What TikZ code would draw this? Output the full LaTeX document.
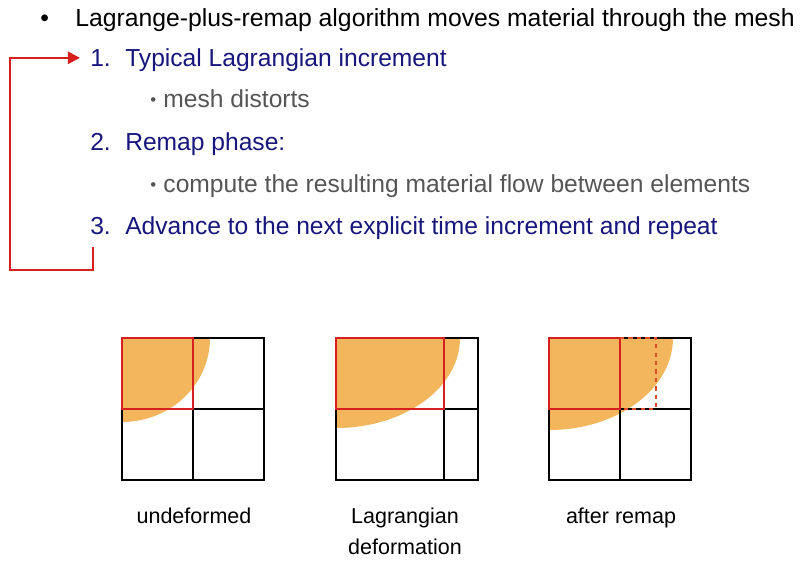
\documentclass[tikz,border=0pt]{standalone}
\usepackage{fontspec}
\setmainfont{Liberation Sans}
\definecolor{slnavy}{RGB}{22,22,125}
\definecolor{slgray}{RGB}{85,85,85}
\definecolor{slred}{RGB}{214,32,32}
\definecolor{slorange}{RGB}{244,182,92}
\definecolor{sldash}{RGB}{222,78,40}
\usetikzlibrary{arrows.meta,positioning}
\newcommand{\subdot}{\makebox[0.33cm][l]{\raisebox{0.05cm}{\fontsize{12}{12}\selectfont•}}}

\begin{document}
\begin{tikzpicture}[
    x=0.025cm, y=-0.025cm,
    headline/.style={anchor=base west, inner sep=0pt, text=black,
                     font=\fontsize{17.6}{21}\selectfont},
    steptext/.style={anchor=base west, inner sep=0pt, text=slnavy,
                     font=\fontsize{17.5}{21}\selectfont},
    subtext/.style={anchor=base west, inner sep=0pt, text=slgray,
                    font=\fontsize{17.5}{21}\selectfont},
    caption/.style={anchor=base, inner sep=0pt, text=black,
                    font=\fontsize{15.3}{18}\selectfont},
    meshline/.style={draw=black, line width=0.9pt},
    cellline/.style={draw=slred, line width=1.4pt},
    matfill/.style={fill=slorange},
    looparrow/.style={draw=slred, line width=1.8pt,
                      -{Triangle[length=0.3cm, width=0.3cm]}, shorten >=0.25cm},
  ]
    \useasboundingbox (0,0) rectangle (800,563);

    % Heading
    \node[headline] (title) at (40,27)
      {\makebox[0.875cm][l]{•}Lagrange-plus-remap algorithm moves material through the mesh};

    % Steps
    \node[steptext] (item1) at (90,67) {\makebox[0.875cm][l]{1.}Typical Lagrangian increment};
    \node[subtext] (sub1) at (150,108) {\subdot mesh distorts};
    \node[steptext] (item2) at (90,151) {\makebox[0.875cm][l]{2.}Remap phase:};
    \node[subtext] (sub2) at (150,193)
      {\subdot compute the resulting material flow between elements};
    \node[steptext] (item3) at (90,235)
      {\makebox[0.875cm][l]{3.}Advance to the next explicit time increment and repeat};

    % Repeat loop
    \coordinate (loopcorner) at (10,270);
    \draw[looparrow] ([xshift=0.075cm,yshift=-0.17cm]item3.south west)
      |- (loopcorner) |- ([yshift=0.07cm]item1.west);

    % Meshes
    \foreach \x/\mx/\rx/\ry in {122/193/88/84, 336/444/124/90, 549/620/124/92}{
      \begin{scope}
        \clip (\x,338) rectangle ++(142,142);
        \fill[matfill] (\x,338) ellipse [x radius=\rx, y radius=\ry];
      \end{scope}
      \draw[meshline] (\x,338) rectangle ++(142,142);
      \draw[meshline] (\mx,338) -- (\mx,480) (\x,409) -- ++(142,0);
      \draw[cellline] (\x,338) rectangle (\mx,409);
    }

    % Remapped cell outline
    \draw[sldash, line width=1pt, dashed] (620,338) -- (656,338) -- (656,409) -- (620,409);

    % Captions
    \node[caption] (lblundef) at (194,523) {undeformed};
    \node[caption] (lbllag) at (405,523) {Lagrangian};
    \node[caption] (lbldef) at (405,554) {deformation};
    \node[caption] (lblremap) at (621,523) {after remap};
  \end{tikzpicture}
\end{document}
